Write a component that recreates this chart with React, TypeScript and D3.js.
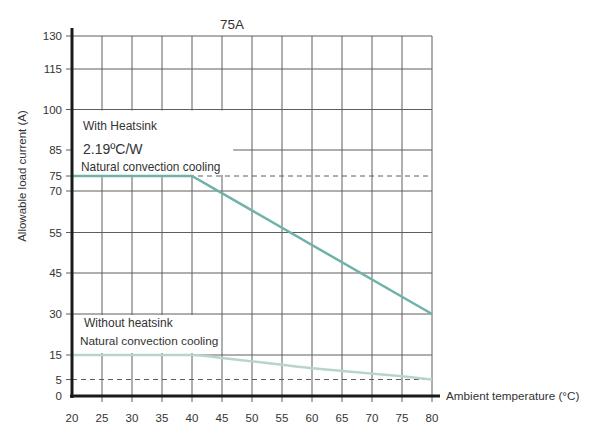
import React, { useEffect, useRef } from "react";
import * as d3 from "d3";

type Point = { t: number; a: number };

// x axis ticks (ambient temperature, °C)
const xTicks = [20, 25, 30, 35, 40, 45, 50, 55, 60, 65, 70, 75, 80];
// y axis ticks (allowable load current, A) - the original grid is not evenly spaced
const yTicks = [0, 5, 15, 30, 45, 55, 70, 75, 85, 100, 115, 130];
const dashedLevels = [75, 5];

const withHeatsink: Point[] = [
  { t: 20, a: 75 },
  { t: 40, a: 75 },
  { t: 80, a: 30 },
];

const withoutHeatsink: Point[] = [
  { t: 20, a: 15 },
  { t: 40, a: 15 },
  { t: 45, a: 13.8 },
  { t: 50, a: 12.4 },
  { t: 55, a: 11 },
  { t: 60, a: 9.6 },
  { t: 65, a: 8.5 },
  { t: 70, a: 7.4 },
  { t: 75, a: 6.3 },
  { t: 80, a: 5 },
];

const App: React.FC = () => {
  const ref = useRef<SVGSVGElement>(null);

  useEffect(() => {
    drawChart();
  }, []);

  const drawChart = () => {
    const width = 600;
    const height = 436;
    const font = "'Liberation Sans', Arial, sans-serif";
    const textColor = "#333";
    const gridColor = "#5e5e5e";

    const x = d3.scaleLinear().domain([20, 80]).range([72, 432]);
    // piecewise scale: each tick gets the row position used in the original
    const y = d3
      .scaleLinear()
      .domain(yTicks)
      .range([396, 379.5, 355, 314, 273, 232.5, 191, 176, 150, 109.5, 69, 36]);

    const svg = d3.select(ref.current);
    svg.selectAll("*").remove();
    svg.attr("width", width).attr("height", height);

    const g = svg.append("g");

    // vertical grid lines + tick stubs below the axis
    g.selectAll("line.vgrid")
      .data(xTicks.slice(1))
      .join("line")
      .attr("class", "vgrid")
      .attr("x1", (d) => x(d))
      .attr("x2", (d) => x(d))
      .attr("y1", y(130))
      .attr("y2", y(0) + 6)
      .attr("stroke", gridColor)
      .attr("stroke-width", 1);

    // horizontal grid lines (solid) + tick stubs left of the axis
    g.selectAll("line.hgrid")
      .data(yTicks.filter((d) => d > 0 && !dashedLevels.includes(d)))
      .join("line")
      .attr("class", "hgrid")
      .attr("x1", x(20) - 6)
      .attr("x2", x(80))
      .attr("y1", (d) => y(d))
      .attr("y2", (d) => y(d))
      .attr("stroke", gridColor)
      .attr("stroke-width", 1);

    // dashed levels
    g.selectAll("line.dash")
      .data(dashedLevels)
      .join("line")
      .attr("class", "dash")
      .attr("x1", x(20))
      .attr("x2", x(80))
      .attr("y1", (d) => y(d))
      .attr("y2", (d) => y(d))
      .attr("stroke", gridColor)
      .attr("stroke-width", 1)
      .attr("stroke-dasharray", "5,4");

    g.selectAll("line.dashtick")
      .data(dashedLevels)
      .join("line")
      .attr("class", "dashtick")
      .attr("x1", x(20) - 6)
      .attr("x2", x(20))
      .attr("y1", (d) => y(d))
      .attr("y2", (d) => y(d))
      .attr("stroke", gridColor)
      .attr("stroke-width", 1);

    // white label boxes that hide the grid behind the annotations
    g.append("rect")
      .attr("x", x(20) + 1)
      .attr("y", y(100) + 1)
      .attr("width", x(46.7) - x(20))
      .attr("height", y(75) - y(100) - 2)
      .attr("fill", "#fff");
    g.append("rect")
      .attr("x", x(20) + 1)
      .attr("y", y(30) + 1)
      .attr("width", x(44.5) - x(20))
      .attr("height", y(15) - y(30) - 3)
      .attr("fill", "#fff");

    // series
    const line = d3
      .line<Point>()
      .x((d) => x(d.t))
      .y((d) => y(d.a))
      .curve(d3.curveMonotoneX);

    g.append("path")
      .datum(withoutHeatsink)
      .attr("d", line)
      .attr("fill", "none")
      .attr("stroke", "#b7d5c8")
      .attr("stroke-width", 2.5);

    g.append("path")
      .datum(withHeatsink)
      .attr("d", d3.line<Point>().x((d) => x(d.t)).y((d) => y(d.a)))
      .attr("fill", "none")
      .attr("stroke", "#6fb2a8")
      .attr("stroke-width", 2.5);

    // axes
    g.append("line")
      .attr("x1", x(20))
      .attr("x2", x(20))
      .attr("y1", 28)
      .attr("y2", y(0) + 2)
      .attr("stroke", "#1a1a1a")
      .attr("stroke-width", 3);
    g.append("line")
      .attr("x1", x(20) - 2)
      .attr("x2", x(80) + 8)
      .attr("y1", y(0))
      .attr("y2", y(0))
      .attr("stroke", "#1a1a1a")
      .attr("stroke-width", 3);

    // tick labels
    g.selectAll("text.ylab")
      .data(yTicks)
      .join("text")
      .attr("class", "ylab")
      .attr("x", x(20) - 10)
      .attr("y", (d) => y(d))
      .attr("dy", "0.35em")
      .attr("text-anchor", "end")
      .attr("font-family", font)
      .attr("font-size", 11.5)
      .attr("fill", textColor)
      .text((d) => d);

    g.selectAll("text.xlab")
      .data(xTicks)
      .join("text")
      .attr("class", "xlab")
      .attr("x", (d) => x(d))
      .attr("y", y(0) + 22)
      .attr("dy", "0.35em")
      .attr("text-anchor", "middle")
      .attr("font-family", font)
      .attr("font-size", 11.5)
      .attr("fill", textColor)
      .text((d) => d);

    // titles
    const addText = (
      tx: number,
      ty: number,
      s: string,
      size: number,
      anchor = "start"
    ) =>
      g.append("text")
        .attr("x", tx)
        .attr("y", ty)
        .attr("dy", "0.35em")
        .attr("text-anchor", anchor)
        .attr("font-family", font)
        .attr("font-size", size)
        .attr("fill", textColor)
        .text(s);

    addText(232, 24, "75A", 13.5, "middle");
    addText(446, 396, "Ambient temperature (°C)", 11.7);
    addText(83, 126, "With Heatsink", 12);
    addText(83, 149, "2.19ºC/W", 14);
    addText(81, 167, "Natural convection cooling", 11.9);
    addText(84, 323, "Without heatsink", 12);
    addText(80, 341, "Natural convection cooling", 11.8);

    g.append("text")
      .attr("transform", `translate(22, 176) rotate(-90)`)
      .attr("dy", "0.35em")
      .attr("text-anchor", "middle")
      .attr("font-family", font)
      .attr("font-size", 11.5)
      .attr("fill", textColor)
      .text("Allowable load current (A)");
  };

  return (
    <svg
      ref={ref}
      style={{ position: "absolute", left: 0, top: 0, display: "block", background: "#fff" }}
    />
  );
};

export default App;
